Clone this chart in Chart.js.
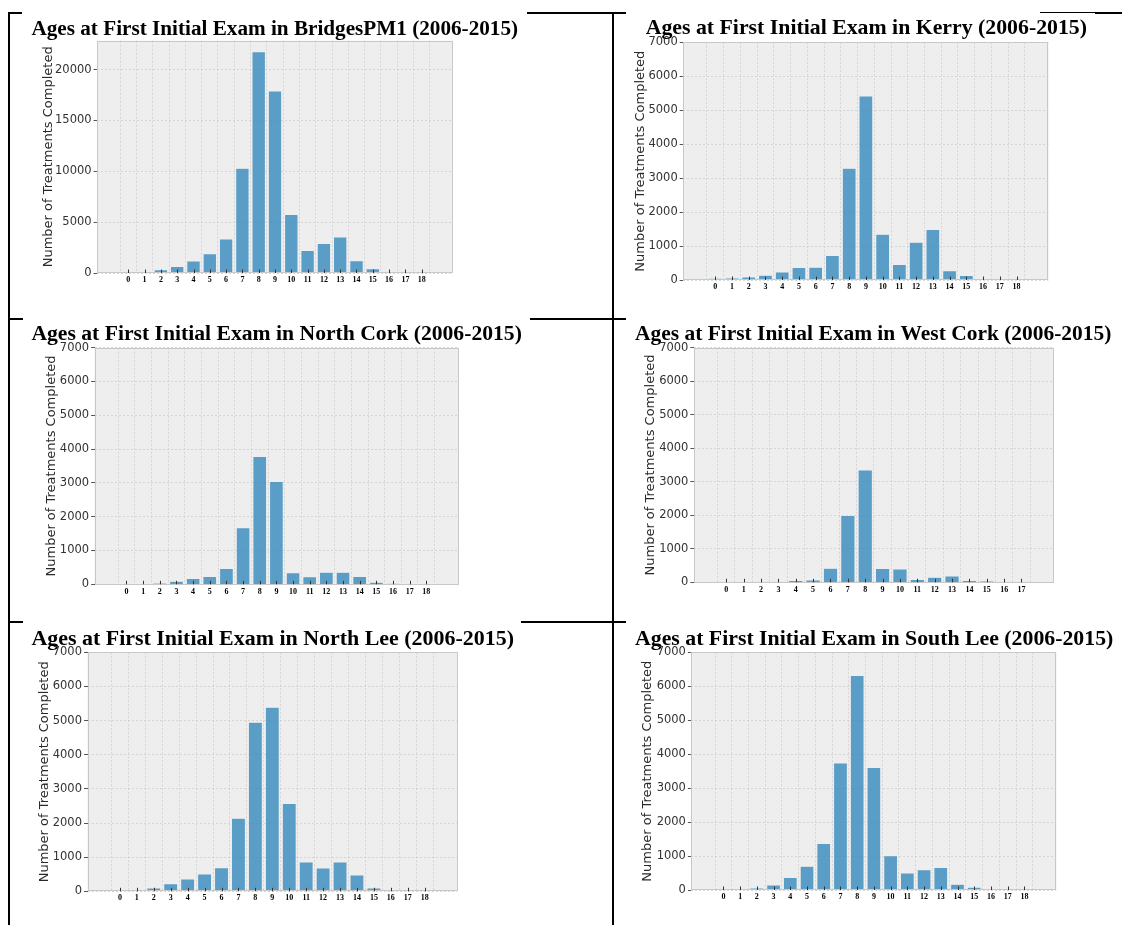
<!DOCTYPE html>
<html>
<head>
<meta charset="utf-8">
<script src="https://cdn.jsdelivr.net/npm/chart.js@4/dist/chart.umd.min.js"></script>
<style>
  html, body { margin: 0; padding: 0; background: #ffffff; }
  body { width: 1122px; height: 925px; position: relative; overflow: hidden; }
  .cell { position: absolute; }
  .cell canvas { display: block; }
  .line { position: absolute; background: #000; z-index: 5; }
</style>
</head>
<body>
<script>
// ---------------- DATA ----------------
const ages0to18 = ['0','1','2','3','4','5','6','7','8','9','10','11','12','13','14','15','16','17','18'];
const ages0to17 = ['0','1','2','3','4','5','6','7','8','9','10','11','12','13','14','15','16','17'];

const bridgesPM1 = [60, 150, 320, 640, 1180, 1890, 3350, 10300, 21750, 17900, 5750, 2200, 2900, 3550, 1200, 430, 140, 15, 5];
const kerry      = [50, 60, 90, 140, 235, 365, 375, 720, 3290, 5420, 1350, 460, 1110, 1490, 270, 130, 40, 20, 20];
const northCork  = [0, 0, 30, 90, 170, 230, 470, 1670, 3780, 3040, 340, 220, 360, 360, 230, 60, 20, 0, 0];
const westCork   = [0, 0, 5, 20, 50, 70, 420, 1990, 3350, 410, 400, 80, 150, 190, 50, 40, 0, 0];
const northLee   = [20, 40, 100, 220, 360, 510, 690, 2140, 4950, 5390, 2570, 860, 680, 860, 480, 100, 20, 0, 0];
const southLee   = [0, 20, 60, 150, 370, 700, 1370, 3740, 6320, 3610, 1010, 500, 600, 660, 170, 80, 40, 0, 0];

const titles = [
  'Ages at First Initial Exam in BridgesPM1 (2006-2015)',
  'Ages at First Initial Exam in Kerry (2006-2015)',
  'Ages at First Initial Exam in North Cork (2006-2015)',
  'Ages at First Initial Exam in West Cork (2006-2015)',
  'Ages at First Initial Exam in North Lee (2006-2015)',
  'Ages at First Initial Exam in South Lee (2006-2015)'
];
const yAxisLabel = 'Number of Treatments Completed';
const yTicksBridges = [0, 5000, 10000, 15000, 20000];
const yTicksRegion = [0, 1000, 2000, 3000, 4000, 5000, 6000, 7000];

// ---------------- LAYOUT (page pixels) ----------------
const panels = [
  { title: titles[0], labels: ages0to18, values: bridgesPM1, yTicks: yTicksBridges, yMax: 22840,
    box: {x: 10, y: 13, w: 602, h: 306}, titleLeft: 31.4, titleBase: 36.5, titleSize: 21.2,
    plot: {l: 97.1, r: 452.9, t: 40.7, b: 273}, ylabX: 48.8, xlabY: 280 },
  { title: titles[1], labels: ages0to18, values: kerry, yTicks: yTicksRegion, yMax: 7000,
    box: {x: 614, y: 13, w: 508, h: 306}, titleLeft: 645.7, titleBase: 35.5, titleSize: 21.8,
    plot: {l: 683.2, r: 1048.6, t: 42.3, b: 280}, ylabX: 641, xlabY: 287.3 },
  { title: titles[2], labels: ages0to18, values: northCork, yTicks: yTicksRegion, yMax: 7000,
    box: {x: 10, y: 319, w: 602, h: 303}, titleLeft: 31.4, titleBase: 341.5, titleSize: 21.65,
    plot: {l: 94.6, r: 458.2, t: 347.7, b: 584.3}, ylabX: 51.8, xlabY: 591.7 },
  { title: titles[3], labels: ages0to17, values: westCork, yTicks: yTicksRegion, yMax: 7000,
    box: {x: 614, y: 319, w: 508, h: 303}, titleLeft: 635, titleBase: 341.5, titleSize: 21.45,
    plot: {l: 693.9, r: 1053.9, t: 347.7, b: 582.3}, ylabX: 650.7, xlabY: 590.3 },
  { title: titles[4], labels: ages0to18, values: northLee, yTicks: yTicksRegion, yMax: 7000,
    box: {x: 10, y: 622, w: 602, h: 303}, titleLeft: 31.4, titleBase: 647, titleSize: 21.95,
    plot: {l: 87.5, r: 457.1, t: 652.3, b: 891.3}, ylabX: 44.3, xlabY: 898.3 },
  { title: titles[5], labels: ages0to18, values: southLee, yTicks: yTicksRegion, yMax: 7000,
    box: {x: 614, y: 622, w: 508, h: 303}, titleLeft: 635, titleBase: 647, titleSize: 21.8,
    plot: {l: 691.4, r: 1056.4, t: 652.3, b: 890}, ylabX: 647.8, xlabY: 897.3 }
];

// table border segments [x, y, w, h]
const borderSegments = [
  [8, 12, 14, 2], [527, 12, 99, 2], [1040, 12, 55, 1], [1095, 12, 27, 2],
  [8, 318, 15, 2], [530, 318, 96, 2],
  [8, 621, 15, 2], [521, 621, 105, 2],
  [8, 12, 2, 913], [612, 12, 2, 913]
];

// ---------------- STYLE ----------------
const BAR_FILL = 'rgba(52,138,189,0.8)';
const BAR_EDGE = '#eeeeee';
const PLOT_BG = '#eeeeee';
const FRAME = '#c8c8c8';
const GRID = '#c9c9c9';

const plotDecor = {
  id: 'plotDecor',
  beforeDraw(chart) {
    const {ctx, chartArea: a} = chart;
    ctx.save();
    ctx.fillStyle = PLOT_BG;
    ctx.fillRect(a.left, a.top, a.width, a.height);
    ctx.restore();
  },
  afterDatasetsDraw(chart) {
    const {ctx, chartArea: a} = chart;
    const xs = chart.scales.x;
    ctx.save();
    ctx.strokeStyle = FRAME;
    ctx.lineWidth = 1;
    ctx.strokeRect(Math.round(a.left) + 0.5, Math.round(a.top) + 0.5, Math.round(a.width) - 1, Math.round(a.height) - 1);
    ctx.strokeStyle = '#333333';
    ctx.beginPath();
    xs.ticks.forEach(t => {
      const px = Math.round(xs.getPixelForValue(t.value)) + 0.5;
      ctx.moveTo(px, a.bottom);
      ctx.lineTo(px, a.bottom - 3.5);
    });
    ctx.stroke();
    ctx.restore();
  }
};

for (const s of borderSegments) {
  const d = document.createElement('div');
  d.className = 'line';
  d.style.left = s[0] + 'px'; d.style.top = s[1] + 'px';
  d.style.width = s[2] + 'px'; d.style.height = s[3] + 'px';
  document.body.appendChild(d);
}

function buildPanel(p) {
  const B = p.box;
  const wrap = document.createElement('div');
  wrap.className = 'cell';
  wrap.style.left = B.x + 'px'; wrap.style.top = B.y + 'px';
  wrap.style.width = B.w + 'px'; wrap.style.height = B.h + 'px';
  const cv = document.createElement('canvas');
  cv.width = B.w; cv.height = B.h;
  cv.style.width = B.w + 'px'; cv.style.height = B.h + 'px';
  wrap.appendChild(cv);
  document.body.appendChild(wrap);

  const tl = p.titleLeft - B.x;
  const base = p.titleBase - B.y;
  const pl = p.plot.l - B.x, pr = p.plot.r - B.x, pt = p.plot.t - B.y, pb = p.plot.b - B.y;
  const f = p.titleSize, lh = f * 1.2;
  const tTop = base - 0.3375 * f - lh / 2;
  const tBottom = pt - tTop - lh;
  const yW = pl - tl;
  const spacer = B.w - pr;
  const xH = 20;
  const padB = B.h - pb - xH;
  const yTitleSize = 13, yTitleLH = yTitleSize * 1.2;
  const yTitlePad = (p.ylabX - B.x) - tl - yTitleLH / 2;
  const xTickSize = 8;
  const xPad = (p.xlabY - B.y) - pb - xTickSize * 1.2 / 2;

  const n = p.labels.length;
  const span = (n - 1) + 0.8;
  const xmin = -0.4 - 0.05 * span;
  const xmax = (n - 1) + 0.4 + 0.05 * span;

  new Chart(cv, {
    type: 'bar',
    data: {
      datasets: [{
        data: p.values.map((v, i) => ({x: Number(p.labels[i]), y: v})),
        backgroundColor: BAR_FILL,
        borderColor: BAR_EDGE,
        borderWidth: 0.5,
        barPercentage: 0.82,
        categoryPercentage: 1.0
      }]
    },
    options: {
      responsive: false,
      animation: false,
      devicePixelRatio: 1,
      layout: { padding: { left: tl, right: 0, top: 0, bottom: padB } },
      plugins: {
        legend: { display: false },
        tooltip: { enabled: false },
        title: {
          display: true,
          text: p.title,
          align: 'start',
          color: '#000000',
          font: { family: 'Liberation Serif', size: f, weight: 'bold', lineHeight: 1.2 },
          padding: { top: tTop, bottom: tBottom }
        }
      },
      scales: {
        x: {
          type: 'linear',
          min: xmin, max: xmax,
          afterFit(s) { s.height = xH; },
          afterBuildTicks(s) { s.ticks = p.labels.map(l => ({ value: Number(l) })); },
          ticks: {
            autoSkip: false, maxRotation: 0, minRotation: 0,
            callback: (v, i) => p.labels[i],
            color: '#000000',
            font: { family: 'Liberation Serif', size: xTickSize, weight: 'bold', lineHeight: 1.2 },
            padding: xPad
          },
          grid: { drawTicks: false, color: GRID, lineWidth: 0.7, borderDash: [2, 2] },
          border: { display: false, dash: [2, 2] }
        },
        y: {
          position: 'left',
          min: 0, max: p.yMax,
          afterFit(s) { s.width = yW; },
          afterBuildTicks(s) { s.ticks = p.yTicks.map(v => ({ value: v })); },
          ticks: {
            callback: (v) => String(v),
            color: '#333333',
            font: { family: 'DejaVu Sans', size: 11.5 },
            padding: 2
          },
          grid: { color: GRID, lineWidth: 0.7, borderDash: [2, 2], drawTicks: true, tickLength: 3.5,
                  tickColor: '#555555', tickWidth: 1, tickBorderDash: [] },
          border: { display: false, dash: [2, 2] },
          title: {
            display: true,
            text: yAxisLabel,
            color: '#2a2a2a',
            font: { family: 'DejaVu Sans', size: yTitleSize, lineHeight: 1.2 },
            padding: { top: yTitlePad, bottom: 0 }
          }
        },
        y2: {
          position: 'right',
          display: true,
          afterFit(s) { s.width = spacer; },
          ticks: { display: false },
          grid: { display: false, drawTicks: false },
          border: { display: false }
        }
      }
    },
    plugins: [plotDecor]
  });
}

panels.forEach(buildPanel);
</script>
</body>
</html>
